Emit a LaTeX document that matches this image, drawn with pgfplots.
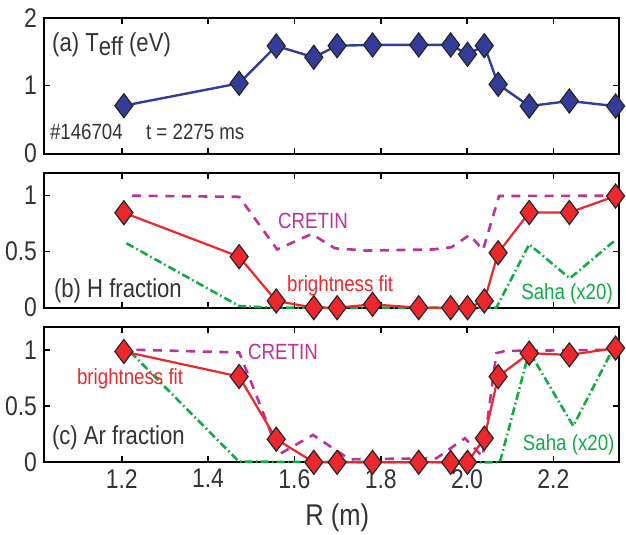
\documentclass[border=0pt]{standalone}
\usepackage{pgfplots}
\pgfplotsset{compat=1.18}
\usepackage{fontspec}
\setmainfont{Liberation Sans}[FakeStretch=0.85]

\definecolor{cblue}{RGB}{51,61,153}
\definecolor{cred}{RGB}{236,40,44}
\definecolor{cmag}{RGB}{187,51,153}
\definecolor{cgreen}{RGB}{17,170,68}
\definecolor{ctext}{RGB}{51,51,51}

\tikzset{
  lab/.style={font=\fontsize{13}{13}\selectfont, text=ctext, inner sep=0pt, anchor=base west},
  small/.style={font=\fontsize{11}{11}\selectfont, inner sep=0pt, anchor=base west},
}
\pgfplotsset{
  panel/.style={
    width=287.5pt, scale only axis,
    xmin=1.02, xmax=2.352,
    xtick={1.2,1.4,1.6,1.8,2.0,2.2},
    axis line style={line width=1.1pt},
    major tick style={line width=0.8pt, black},
    major tick length=3pt,
    tick align=inside,
    clip=false,
    /pgf/number format/assume math mode=true,
    tick label style={font=\fontsize{13.5}{13.5}\selectfont, text=ctext},
  },
  cretin/.style={cmag, line width=1.3pt, dash pattern=on 4.5pt off 3.8pt},
  saha/.style={cgreen, line width=1.3pt, dash pattern=on 4pt off 1.6pt on 0.8pt off 1.6pt},
  fit/.style={cred, line width=1.1pt, mark=diamond*, mark size=6pt,
    mark options={solid, fill=cred, draw=black!85, line width=0.6pt}},
}

\begin{document}
\begin{tikzpicture}

% (a) effective temperature
\begin{axis}[panel, at={(22pt,190.65pt)}, anchor=south west, height=68pt,
  ymin=0, ymax=2, ytick={0,1,2}, xticklabels={}]
\addplot[cblue, line width=1.2pt, mark=diamond*, mark size=6pt,
  mark options={fill=cblue, draw=black!85, line width=0.6pt}] coordinates {
  (1.205,0.706)(1.472,1.035)(1.558,1.584)(1.645,1.418)(1.699,1.588)
  (1.781,1.599)(1.888,1.600)(1.962,1.600)(2.001,1.462)(2.040,1.588)
  (2.072,1.020)(2.144,0.700)(2.237,0.775)(2.344,0.700)};
\node[lab] at (axis cs:1.038,1.50) {(a) T\raisebox{-0.3ex}{eff} (eV)};
\node[small, text=ctext] at (axis cs:1.033,0.212) {\#146704};
\node[small, text=ctext] at (axis cs:1.2556,0.212) {t = 2275 ms};
\end{axis}

% (b) H fraction
\begin{axis}[panel, at={(22pt,113.65pt)}, anchor=south west, height=67.2pt,
  ymin=0, ymax=1.2, ytick={0,0.5,1}, xticklabels={}]
\addplot[cretin] coordinates {
  (1.224,1.0)(1.472,0.99)(1.56,0.52)(1.64,0.658)(1.694,0.53)(1.767,0.51)
  (1.921,0.52)(1.964,0.54)(2.006,0.65)(2.037,0.515)(2.074,0.997)(2.344,1.0)};
\addplot[saha] coordinates {
  (1.211,0.575)(1.472,0.015)(1.55,0.0)(2.068,0.0)(2.144,0.566)(2.238,0.262)(2.341,0.595)};
\addplot[fit] coordinates {
  (1.205,0.848)(1.472,0.455)(1.558,0.06)(1.645,0.0)(1.699,0.0)(1.781,0.03)
  (1.888,0.0)(1.962,0.0)(2.001,0.0)(2.040,0.06)(2.072,0.49)(2.144,0.85)
  (2.237,0.85)(2.344,0.997)};
\node[lab] at (axis cs:1.0424,0.093) {(b) H fraction};
\node[small, text=cmag] at (axis cs:1.5615,0.709) {CRETIN};
\node[small, text=cred] at (axis cs:1.5824,0.143) {brightness fit};
\node[small, text=cgreen] at (axis cs:2.1247,0.069) {Saha (x20)};
\end{axis}

% (c) Ar fraction
\begin{axis}[panel, at={(22pt,36.35pt)}, anchor=south west, height=67.5pt,
  ymin=0, ymax=1.2, ytick={0,0.5,1},
  xticklabel style={/pgf/number format/.cd, fixed, fixed zerofill, precision=1},
  xlabel={R (m)},
  xlabel style={font=\fontsize{15}{15}\selectfont, text=ctext,
    at={(axis description cs:0.51,0)}, anchor=base, yshift=-31.4pt}]
\addplot[cretin] coordinates {
  (1.234,1.0)(1.472,0.976)(1.504,0.673)(1.543,0.288)(1.562,0.065)(1.643,0.243)
  (1.728,0.027)(1.929,0.036)(1.995,0.214)(2.036,0.05)(2.068,0.97)(2.088,0.99)
  (2.344,1.0)};
\addplot[saha] coordinates {
  (1.22,0.98)(1.472,0.005)(2.076,0.0)(2.144,0.985)(2.246,0.323)(2.341,1.03)};
\addplot[fit] coordinates {
  (1.205,0.985)(1.472,0.762)(1.558,0.205)(1.645,0.0)(1.699,0.0)(1.781,0.0)
  (1.888,0.0)(1.962,0.0)(2.001,0.0)(2.040,0.214)(2.072,0.762)(2.144,0.97)
  (2.237,0.955)(2.344,1.015)};
\node[lab] at (axis cs:1.0378,0.154) {(c) Ar fraction};
\node[small, text=cmag] at (axis cs:1.492,0.917) {CRETIN};
\node[small, text=cred] at (axis cs:1.0957,0.688) {brightness fit};
\node[small, text=cgreen] at (axis cs:2.1286,0.103) {Saha (x20)};
\end{axis}

\pgfresetboundingbox
\useasboundingbox (0,0) rectangle (313pt,267.5pt);
\end{tikzpicture}
\end{document}
